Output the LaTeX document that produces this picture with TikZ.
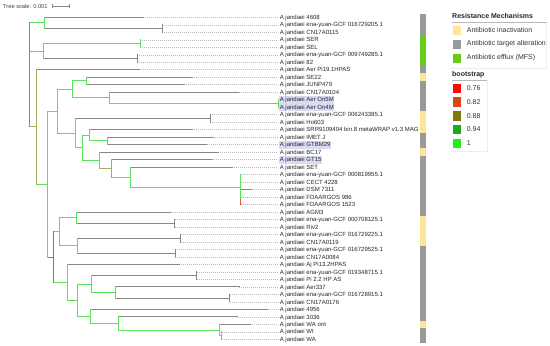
\documentclass[tikz,border=0pt]{standalone}
\usepackage{fontspec}
\setmainfont{Liberation Sans}
\definecolor{cgn}{RGB}{90,226,90}
\definecolor{cgr}{RGB}{135,135,135}
\definecolor{col}{RGB}{160,178,92}
\definecolor{crd}{RGB}{236,80,60}
\definecolor{syel}{RGB}{253,229,155}
\definecolor{sgray}{RGB}{153,153,153}
\definecolor{sgrn}{RGB}{104,204,28}
\definecolor{hl}{RGB}{218,218,244}
\definecolor{b76}{RGB}{250,10,10}
\definecolor{b82}{RGB}{221,70,20}
\definecolor{b88}{RGB}{130,120,5}
\definecolor{b94}{RGB}{30,170,30}
\definecolor{b100}{RGB}{34,238,34}
\begin{document}
\begin{tikzpicture}[x=1pt,y=-1pt,
  brgn/.style={draw=cgn,line width=1pt,line cap=rect},
  brgr/.style={draw=cgr,line width=1pt,line cap=rect},
  brol/.style={draw=col,line width=1pt,line cap=rect},
  brrd/.style={draw=crd,line width=1pt,line cap=rect},
  dotln/.style={draw=gray!55,line width=0.5pt,dash pattern=on 0.8pt off 1.2pt},
  leaflab/.style={font=\fontsize{6}{7}\selectfont,text=black!85,inner xsep=0.6pt,inner ysep=0.5pt,text height=4.9pt,text depth=1.3pt},
  leafhl/.style={leaflab,fill=hl},
  legtxt/.style={font=\fontsize{7}{8}\selectfont,text=black!80,anchor=west,inner sep=0pt},
  legtitle/.style={font=\fontsize{7}{8}\selectfont\bfseries,text=black!85,anchor=west,inner sep=0pt},
  swatch/.style={minimum width=8.7pt,minimum height=9pt,inner sep=0pt,anchor=west}]
\useasboundingbox (0,0) rectangle (550,346);

% ---------- tree scale ----------
\node[font=\fontsize{5.7}{7}\selectfont,text=black!75,anchor=west,inner sep=0pt] (ts) at (3,6.3) {Tree scale: 0.001};
\coordinate (sb1) at (52,6);
\coordinate (sb2) at (69,6);
\draw[cgr,line width=0.6pt] (sb1) -- (sb2);
\draw[cgr,line width=0.6pt] ([yshift=-1.6pt]sb1) -- ([yshift=1.6pt]sb1);
\draw[cgr,line width=0.6pt] ([yshift=-1.6pt]sb2) -- ([yshift=1.6pt]sb2);

% ---------- leaves, labels and dotted guides ----------
\foreach \i/\x/\s/\t in {
1/143/leaflab/{A jandaei 4608},
2/162/leaflab/{A jandaei ena-yuan-GCF 016729205.1},
3/162/leaflab/{A jandaei CN17A0115},
4/140/leaflab/{A jandaei SER},
5/140/leaflab/{A jandaei SEL},
6/137/leaflab/{A jandaei ena-yuan-GCF 009749285.1},
7/137/leaflab/{A jandaei 82},
8/139/leaflab/{A jandaei Aer Pi19.1HPAS},
9/192/leaflab/{A jandaei SE22},
10/184/leaflab/{A jandaei JUNP479},
11/238.7/leaflab/{A jandaei CN17A0104},
12/278.3/leafhl/{A jandaei Aer On5M},
13/278.3/leafhl/{A jandaei Aer On4M},
14/210.3/leaflab/{A jandaei ena-yuan-GCF 006243385.1},
15/210.3/leaflab/{A jandaei Ho603},
16/192.3/leaflab/{A jandaei SRR9109404 bin.8 metaWRAP v1.3 MAG},
17/213.3/leaflab/{A jandaei IMET J},
18/206.7/leafhl/{A jandaei GTBM29},
19/218.3/leaflab/{A jandaei BC17},
20/212.3/leafhl/{A jandaei GT15},
21/232.3/leaflab/{A jandaei SET},
22/240.7/leaflab/{A jandaei ena-yuan-GCF 000819955.1},
23/240.7/leaflab/{A jandaei CECT 4228},
24/251.7/leaflab/{A jandaei DSM 7311},
25/240.7/leaflab/{A jandaei FDAARGOS 986},
26/240.7/leaflab/{A jandaei FDAARGOS 1523},
27/170.7/leaflab/{A jandaei AGM3},
28/174.7/leaflab/{A jandaei ena-yuan-GCF 000708125.1},
29/174.7/leaflab/{A jandaei Riv2},
30/180.7/leaflab/{A jandaei ena-yuan-GCF 016729225.1},
31/180.7/leaflab/{A jandaei CN17A0119},
32/175.3/leaflab/{A jandaei ena-yuan-GCF 016729525.1},
33/175.3/leaflab/{A jandaei CN17A0084},
34/179/leaflab/{A jandaei Aj Pi13.2HPAS},
35/196.7/leaflab/{A jandaei ena-yuan-GCF 019348715.1},
36/196.7/leaflab/{A jandaei Pi 2.2 HP AS},
37/239/leaflab/{A jandaei Aer337},
38/229.7/leaflab/{A jandaei ena-yuan-GCF 016728915.1},
39/229.7/leaflab/{A jandaei CN17A0176},
40/267.7/leaflab/{A jandaei 4956},
41/237.7/leaflab/{A jandaei 3036},
42/250/leaflab/{A jandaei WA ont},
43/221.7/leaflab/{A jandaei WI},
44/221.7/leaflab/{A jandaei WA}}{
  \pgfmathsetmacro\yy{17.3+7.49*(\i-1)}
  \coordinate (p\i) at (\x,\yy);
  \coordinate (d\i) at (278,\yy);
  \node[\s,anchor=base west] (l\i) at (279,\yy+2.1) {\t};
  \draw[dotln] (p\i) -- (d\i);
}

% ---------- internal nodes ----------
\coordinate (root) at (29,75);
\coordinate (nA) at (44,22.9);
\coordinate (t23) at (162,28.55);
\coordinate (nB) at (43,51.0);
\coordinate (t45) at (140,43.55);
\coordinate (t67) at (137,58.5);
\coordinate (nC) at (36.7,126.9);
\coordinate (nD) at (47.7,184.15);
\coordinate (nE) at (57.7,111.25);
\coordinate (nG) at (72.7,89.4);
\coordinate (nH) at (86,80.95);
\coordinate (nI) at (109.3,97.8);
\coordinate (t1213) at (278.3,103.45);
\coordinate (nJ) at (75,133.1);
\coordinate (t1415) at (210.3,118.45);
\coordinate (nK) at (82.3,147.7);
\coordinate (nL) at (89.3,135.2);
\coordinate (nM) at (107.3,140.85);
\coordinate (nN) at (99,160.2);
\coordinate (nO) at (111,168.3);
\coordinate (nP) at (130.7,177.05);
\coordinate (nQ) at (240.7,187);
\coordinate (q2) at (240.7,199);
\coordinate (nF) at (53.3,257.05);
\coordinate (nR) at (59.3,231.7);
\coordinate (nS) at (76,217.6);
\coordinate (t2829) at (174.7,223.25);
\coordinate (nT) at (77.7,245.75);
\coordinate (t3031) at (180.7,238.25);
\coordinate (t3233) at (175.3,253.25);
\coordinate (nU) at (67,282.4);
\coordinate (nV) at (77.3,300.3);
\coordinate (nW) at (91.7,284.1);
\coordinate (t3536) at (196.7,275.75);
\coordinate (nX) at (115,292.5);
\coordinate (t3839) at (229.7,298.15);
\coordinate (nY) at (90.3,316.5);
\coordinate (nZ) at (118.3,323.5);
\coordinate (nAA) at (219.3,330.0);
\coordinate (t4344) at (221.7,335.65);

% ---------- horizontal branches (parent -> child) ----------
\foreach \a/\b/\c in {
root/nA/brgn, root/nB/brgn, root/nC/brol,
nA/p1/brgr, nA/t23/brgr,
nB/t45/brgn, nB/t67/brgr,
nC/p8/brgr, nC/nD/brgn,
nD/nE/brgn, nD/nF/brrd,
nE/nG/brgn, nE/nJ/brgn,
nG/nH/brgn, nG/nI/brgn,
nH/p9/brgr, nH/p10/brgr,
nI/p11/brgr, nI/t1213/brgn,
nJ/t1415/brgr, nJ/nK/brgn,
nK/nL/brgn, nK/nN/brgn,
nL/p16/brgr, nL/nM/brgn,
nM/p17/brgr, nM/p18/brgr,
nN/p19/brgr, nN/nO/brol,
nO/p20/brgr, nO/nP/brgn,
nP/p21/brgr, nP/nQ/brgn,
nQ/p24/brgr,
nF/nR/brgn, nF/nU/brgn,
nR/nS/brgn, nR/nT/brgn,
nS/p27/brgr, nS/t2829/brgr,
nT/t3031/brgr, nT/t3233/brgr,
nU/p34/brgr, nU/nV/brgn,
nV/nW/brgn, nV/nY/brgn,
nW/t3536/brgr, nW/nX/brgn,
nX/p37/brgr, nX/t3839/brgr,
nY/p40/brgr, nY/nZ/brgn,
nZ/p41/brgr, nZ/nAA/brgn,
nAA/p42/brgr, nAA/t4344/brgn}{
  \draw[\c] (\a |- \b) -- (\b);
}

% ---------- vertical spans of each node ----------
\foreach \n/\f/\l/\c in {
root/nA/nC/brgr,
nA/p1/t23/brgn, t23/p2/p3/brgr,
nB/t45/t67/brgn, t45/p4/p5/brgn, t67/p6/p7/brgr,
nC/p8/nD/brol,
nD/nE/nF/brgn,
nE/nG/nJ/brgn,
nG/nH/nI/brgn,
nH/p9/p10/brgn,
nI/p11/t1213/brgn, t1213/p12/p13/brgn,
nJ/t1415/nK/brgn, t1415/p14/p15/brgr,
nK/nL/nN/brgn,
nL/p16/nM/brgn,
nM/p17/p18/brgn,
nN/p19/nO/brgn,
nO/p20/nP/brol,
nP/p21/nQ/brgn,
nQ/p22/p26/brgn,
nF/nR/nU/brrd,
nR/nS/nT/brgn,
nS/p27/t2829/brgn, t2829/p28/p29/brgr,
nT/t3031/t3233/brgn, t3031/p30/p31/brgr, t3233/p32/p33/brgr,
nU/p34/nV/brgn,
nV/nW/nY/brgn,
nW/t3536/nX/brgn, t3536/p35/p36/brgr,
nX/p37/t3839/brgn, t3839/p38/p39/brgr,
nY/p40/nZ/brgn,
nZ/p41/nAA/brgn,
nAA/p42/t4344/brgn, t4344/p43/p44/brgn}{
  \draw[\c] (\n |- \f) -- (\n |- \l);
}
\draw[brrd,line cap=butt] (q2) -- (p26);

% ---------- resistance strip ----------
\foreach \ya/\yb/\c in {13.5/36.05/sgray, 36.05/65.95/sgrn, 65.95/73.45/sgray,
  73.45/80.95/syel, 80.95/110.95/sgray, 110.95/133.4/syel, 133.4/148.35/sgray,
  148.35/155.85/syel, 155.85/215.75/sgray, 215.75/245.75/syel, 245.75/320.65/sgray,
  320.65/328.15/syel, 328.15/343.15/sgray}{
  \fill[\c] (420,\ya) rectangle (426,\yb);
}

% ---------- legend ----------
\draw[gray!14,line width=0.5pt] (546.7,22.3) -- (546.7,68) -- (451,68);
\draw[gray!14,line width=0.5pt] (487.7,80) -- (487.7,151.7) -- (451,151.7);
\node[legtitle] (rmt) at (452,16) {Resistance Mechanisms};
\draw[gray!55,line width=0.5pt] (452,22.3) -- (546.7,22.3);
\node[swatch,fill=syel] (sw1) at (452.3,30) {};
\node[legtxt] (tx1) at (466.7,30) {Antibiotic inactivation};
\node[swatch,fill=sgray] (sw2) at (452.3,44) {};
\node[legtxt] (tx2) at (466.7,44) {Antibiotic target alteration};
\node[swatch,fill=sgrn] (sw3) at (452.3,58) {};
\node[legtxt] (tx3) at (466.7,58) {Antibiotic efflux (MFS)};

\node[legtitle] (bst) at (452,74.3) {bootstrap};
\draw[gray!55,line width=0.5pt] (452,80) -- (486.7,80);
\foreach \k/\c/\v in {0/b76/0.76, 1/b82/0.82, 2/b88/0.88, 3/b94/0.94, 4/b100/1}{
  \node[swatch,fill=\c,minimum height=9.5pt] (bs\k) at (452.3,88.3+13.75*\k) {};
  \node[legtxt] (bv\k) at (466.7,88.3+13.75*\k) {\v};
}
\end{tikzpicture}
\end{document}
